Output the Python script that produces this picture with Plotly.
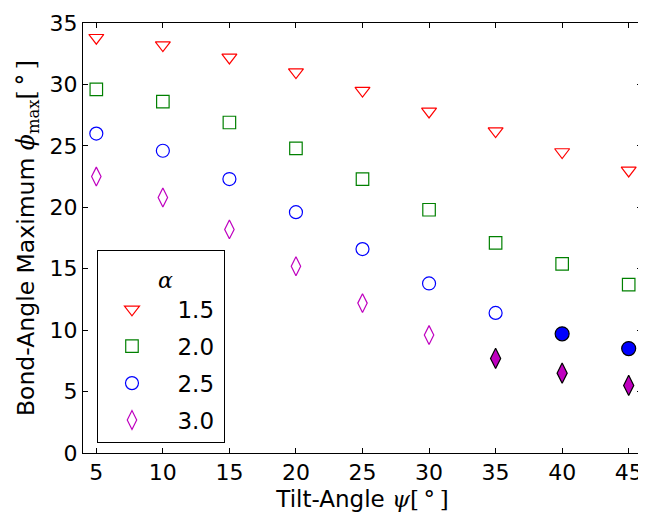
import plotly.graph_objects as go

# ---- data ----
psi = [5, 10, 15, 20, 25, 30, 35, 40, 45]
alpha_labels = ["1.5", "2.0", "2.5", "3.0"]
phi_a15 = [33.8, 33.2, 32.2, 31.0, 29.5, 27.8, 26.2, 24.5, 23.0]
phi_a20 = [29.6, 28.6, 26.9, 24.8, 22.3, 19.8, 17.1, 15.4, 13.7]
phi_a25 = [26.0, 24.6, 22.3, 19.6, 16.6, 13.8, 11.4, 9.7, 8.5]
phi_a30 = [22.5, 20.8, 18.2, 15.2, 12.2, 9.6, 7.7, 6.5, 5.5]
filled_a15 = [False] * 9
filled_a20 = [False] * 9
filled_a25 = [False] * 7 + [True] * 2
filled_a30 = [False] * 6 + [True] * 3
x_ticks = [5, 10, 15, 20, 25, 30, 35, 40, 45]
y_ticks = [0, 5, 10, 15, 20, 25, 30, 35]

series = [
    (alpha_labels[0], phi_a15, filled_a15, "#ff0000", "triangle-down", 13),
    (alpha_labels[1], phi_a20, filled_a20, "#008000", "square", 12.5),
    (alpha_labels[2], phi_a25, filled_a25, "#0000ff", "circle", 13),
    (alpha_labels[3], phi_a30, filled_a30, "#bf00bf", "diamond-tall", 13.5),
]

FONT = "DejaVu Sans"
SERIF = "DejaVu Serif"
EN = "\u2002"
TH = "\u2009"
NB = "\u00a0"

fig = go.Figure()
for name, vals, filled, color, sym, size in series:
    xo = [x for x, f in zip(psi, filled) if not f]
    yo = [y for y, f in zip(vals, filled) if not f]
    xf = [x for x, f in zip(psi, filled) if f]
    yf = [y for y, f in zip(vals, filled) if f]
    fig.add_trace(go.Scatter(
        x=xo, y=yo, mode="markers", name=EN + name + TH, legendgroup=name,
        marker=dict(symbol=sym + "-open", size=size, color=color,
                    line=dict(width=1.2, color=color)),
    ))
    if xf:
        fig.add_trace(go.Scatter(
            x=xf, y=yf, mode="markers", name=name, legendgroup=name,
            showlegend=False,
            marker=dict(symbol=sym, size=size + 1, color=color,
                        line=dict(width=1.2, color="black")),
        ))

axis_common = dict(
    showline=True, linecolor="black", linewidth=1, mirror="allticks",
    ticks="inside", ticklen=5, tickwidth=1, tickcolor="black",
    showgrid=False, zeroline=False, ticklabeloverflow="allow",
    tickfont=dict(family=FONT, size=22, color="black"),
)

serif_span = "<span style=\"font-family:'DejaVu Serif'\">{}</span>"

fig.update_layout(
    width=638, height=513,
    margin=dict(l=75, r=3, t=12, b=68),
    paper_bgcolor="white", plot_bgcolor="white",
    font=dict(family=FONT, size=22, color="black"),
    showlegend=True,
    legend=dict(
        x=0.025, y=0.471, xanchor="left", yanchor="top",
        bordercolor="black", borderwidth=1, bgcolor="white",
        font=dict(family=FONT, size=23, color="black"),
        title=dict(text=NB + "<span style=\"font-family:'DejaVu Serif';font-size:22px\"><i>α</i></span>",
                   side="top center", font=dict(family=SERIF, size=28)),
        tracegroupgap=4, itemwidth=58,
    ),
    xaxis=dict(
        range=[4, 46], tickvals=x_ticks,
        title=dict(text="Tilt-Angle " + serif_span.format("<i>ψ</i>[" + TH + "°" + TH + "]"),
                   font=dict(family=FONT, size=23), standoff=6),
        **axis_common,
    ),
    yaxis=dict(
        range=[0, 35], tickvals=y_ticks,
        title=dict(text="Bond-Angle Maximum " + serif_span.format("<i>ϕ</i><sub>max</sub>[" + TH + "°" + TH + "]"),
                   font=dict(family=FONT, size=23.5), standoff=8),
        **axis_common,
    ),
)

fig.write_html("out.html")
